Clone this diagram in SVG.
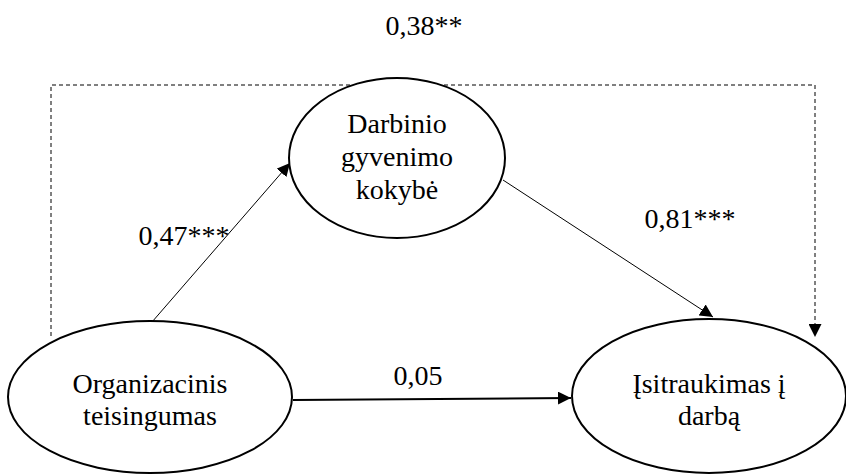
<svg xmlns="http://www.w3.org/2000/svg" width="846" height="474" viewBox="0 0 846 474">
  <style>
    .node { fill: #fff; stroke: #000; stroke-width: 2; }
    .lbl { font-family: "Liberation Serif", "Times New Roman", serif; font-size: 28px; fill: #000; text-anchor: middle; }
    .path { stroke: #000; stroke-width: 1; fill: none; }
    .thick { stroke: #000; stroke-width: 2; fill: none; }
    .dash { stroke: #000; stroke-width: 1; fill: none; stroke-dasharray: 4 3; }
  </style>
  <defs>
    <marker id="arrow" viewBox="0 0 10 10" refX="10" refY="5" markerWidth="13" markerHeight="13" markerUnits="userSpaceOnUse" orient="auto">
      <path d="M0,0 L10,5 L0,10 Z" fill="#000"/>
    </marker>
  </defs>
  <rect width="846" height="474" fill="#fff"/>

  <!-- paths between the three constructs, with their coefficients -->
  <g id="connectors">
    <path class="path" d="M152,322 L290,163" marker-end="url(#arrow)"/>
    <path class="path" d="M503,180 L713,317" marker-end="url(#arrow)"/>
    <path class="thick" d="M293,400 L571,398" marker-end="url(#arrow)"/>
    <path class="dash" d="M51,336 L51,85 L815,85 L815,337" marker-end="url(#arrow)"/>
    <text class="lbl" x="424" y="35">0,38**</text>
    <text class="lbl" x="184" y="245">0,47***</text>
    <text class="lbl" x="690" y="228">0,81***</text>
    <text class="lbl" x="418" y="385">0,05</text>
  </g>

  <g id="darbinio">
    <ellipse class="node" cx="397" cy="158" rx="108" ry="80"/>
    <text class="lbl" x="397" y="133">Darbinio</text>
    <text class="lbl" x="397" y="166">gyvenimo</text>
    <text class="lbl" x="397" y="199">kokybė</text>
  </g>

  <g id="organizacinis">
    <ellipse class="node" cx="150" cy="397" rx="142" ry="76"/>
    <text class="lbl" x="150" y="393">Organizacinis</text>
    <text class="lbl" x="150" y="425">teisingumas</text>
  </g>

  <g id="isitraukimas">
    <ellipse class="node" cx="709" cy="396" rx="137" ry="77"/>
    <text class="lbl" x="709" y="393">Įsitraukimas į</text>
    <text class="lbl" x="709" y="425">darbą</text>
  </g>
</svg>
